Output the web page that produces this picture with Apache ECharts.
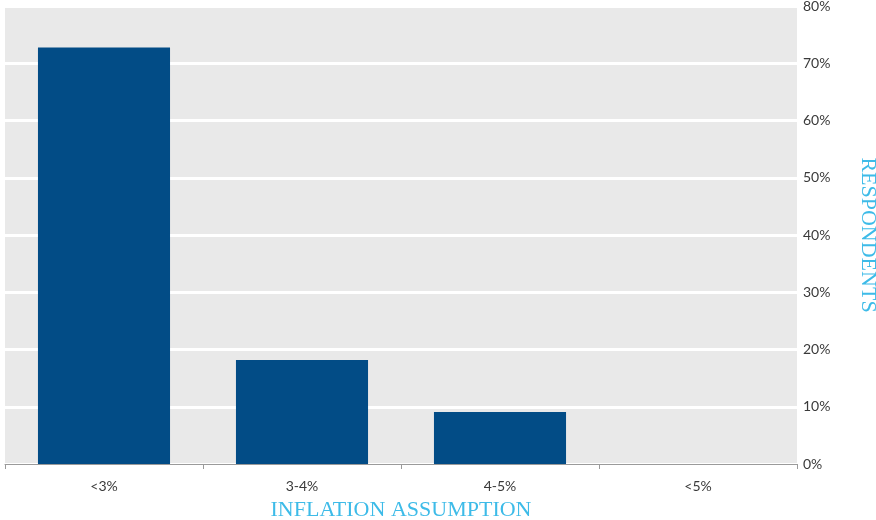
<!DOCTYPE html>
<html><head><meta charset="utf-8">
<script src="https://cdn.jsdelivr.net/npm/echarts@6/dist/echarts.min.js"></script>
<style>html,body{margin:0;padding:0;background:#fff}#c{width:876px;height:520px}</style>
</head><body><div id="c"></div>
<script>
const categories = ['<3%', '3-4%', '4-5%', '<5%'];
const respondents = [72.73, 18.18, 9.09, 0];
const yTicks = [0, 10, 20, 30, 40, 50, 60, 70, 80];

const chart = echarts.init(document.getElementById('c'));
chart.setOption({
  animation: false,
  grid: { left: 5, right: 79, top: 6, bottom: 56, show: true, backgroundColor: '#e9e9e9', borderWidth: 0, outerBoundsMode: 'none', containLabel: false },
  xAxis: {
    type: 'category', data: categories,
    name: 'INFLATION ASSUMPTION', nameLocation: 'middle', nameGap: 35,
    nameTextStyle: { color: '#3dbbe8', fontSize: 22, fontFamily: 'Liberation Serif' },
    axisLine: { lineStyle: { color: '#9a9a9a', width: 1 } },
    axisTick: { show: true, alignWithLabel: false, length: 5, lineStyle: { color: '#9a9a9a' } },
    axisLabel: { color: '#3a3a3a', fontSize: 14, margin: 15, fontFamily: 'Lato' }
  },
  yAxis: {
    type: 'value', position: 'right', min: yTicks[0], max: yTicks[yTicks.length - 1], interval: 10,
    name: 'RESPONDENTS', nameLocation: 'middle', nameGap: 60, nameRotate: -90,
    nameTextStyle: { color: '#3dbbe8', fontSize: 22, fontFamily: 'Liberation Serif' },
    axisLine: { show: false }, axisTick: { show: false },
    axisLabel: { color: '#3a3a3a', fontSize: 14, margin: 6, fontFamily: 'Lato', formatter: v => v + '%' },
    splitLine: { show: true, lineStyle: { color: '#ffffff', width: 3 } }
  },
  series: [{
    type: 'bar', data: respondents, barWidth: '66.7%',
    itemStyle: { color: '#024c86' }
  }]
});
</script></body></html>
